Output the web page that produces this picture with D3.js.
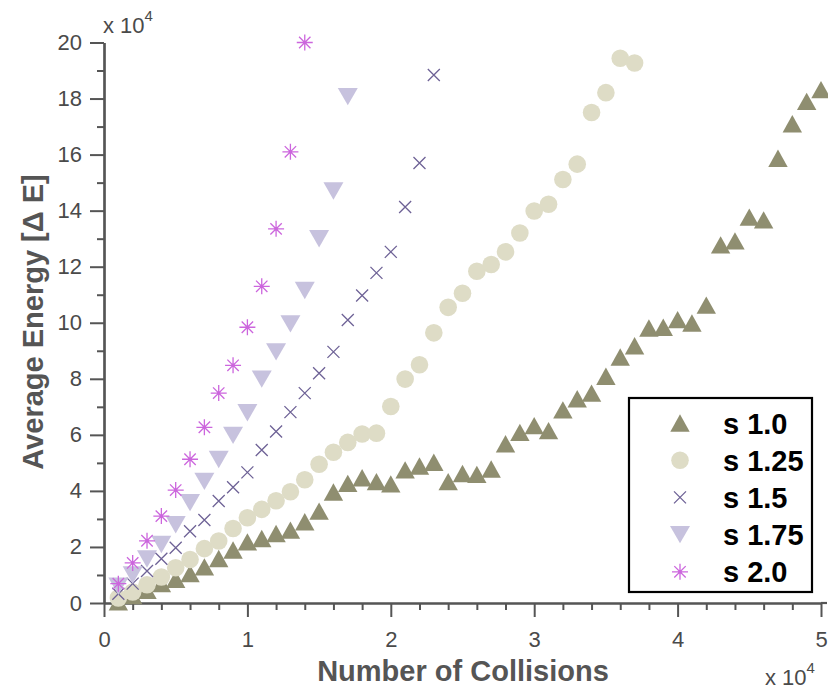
<!DOCTYPE html>
<html>
<head>
<meta charset="utf-8">
<script src="https://cdn.jsdelivr.net/npm/d3@7"></script>
<style>
  body { margin: 0; background: #fff; }
  text { font-family: "Liberation Sans", Arial, Helvetica, sans-serif; }
</style>
</head>
<body>
<script>
// number of collisions (x) and average energy for each s value
var collisions = [1000, 2000, 3000, 4000, 5000, 6000, 7000, 8000, 9000, 10000,
                  11000, 12000, 13000, 14000, 15000, 16000, 17000, 18000, 19000, 20000,
                  21000, 22000, 23000, 24000, 25000, 26000, 27000, 28000, 29000, 30000,
                  31000, 32000, 33000, 34000, 35000, 36000, 37000, 38000, 39000, 40000,
                  41000, 42000, 43000, 44000, 45000, 46000, 47000, 48000, 49000, 50000];

var s10  = [400, 2700, 4500, 6900, 8500, 10500, 12900, 15900, 18900, 21800,
            23000, 24800, 26000, 29000, 32800, 39600, 42700, 44700, 43300, 42500,
            47500, 48900, 50200, 43300, 46200, 45900, 47800, 56800, 60900, 63300,
            61500, 68900, 72900, 74900, 80900, 87800, 91800, 98100, 98400, 101100,
            99900, 106300, 127800, 129200, 137700, 136700, 158700, 171000, 179000, 183200];
var s125 = [1800, 3900, 6500, 9300, 12600, 15500, 19400, 22100, 26600, 30400,
            33400, 36500, 39700, 44000, 49500, 53800, 57300, 60300, 60600, 70100,
            79900, 85000, 96400, 105500, 110500, 118400, 120800, 125300, 132000, 139900,
            142300, 151100, 156600, 175000, 182100, 194400, 192700];
var s15  = [3300, 6900, 11400, 15800, 19700, 25600, 29600, 36400, 41300, 46600,
            54600, 61200, 68100, 74900, 82000, 89600, 101000, 109700, 117800, 125300,
            141300, 157000, 188400];
var s175 = [6000, 10000, 15700, 20900, 27900, 35800, 43400, 51200, 59800, 67900,
            79900, 89600, 99600, 111500, 130000, 147000, 180700];
var s20  = [6900, 14300, 22200, 31000, 40300, 51300, 62700, 74900, 84800, 98400,
            113000, 133500, 161000, 200000];

var seriesNames = ["s 1.0", "s 1.25", "s 1.5", "s 1.75", "s 2.0"];
var seriesData = [s10, s125, s15, s175, s20];

var xTicks = [0, 10000, 20000, 30000, 40000, 50000];
var yTicks = [0, 20000, 40000, 60000, 80000, 100000, 120000, 140000, 160000, 180000, 200000];

function main() {

  var svg = d3.select("body")
              .append("svg")
              .attr("width", 828)
              .attr("height", 691)

  var x = d3.scaleLinear().domain([0, 50000]).range([104, 821])
  var y = d3.scaleLinear().domain([0, 200000]).range([603, 42.5])

  var axisColor = "#555"
  var textColor = "#4a4a4a"

  // minor ticks
  var xMinor = d3.range(0, 50001, 2000).filter(function(v) { return v % 10000 != 0 })
  var yMinor = d3.range(10000, 200000, 20000)

  svg.append("g")
     .attr("transform", "translate(0,603)")
     .call(d3.axisBottom(x).tickValues(xMinor).tickSize(7).tickSizeOuter(0).tickFormat(""))
  svg.append("g")
     .attr("transform", "translate(104,0)")
     .call(d3.axisLeft(y).tickValues(yMinor).tickSize(7).tickSizeOuter(0).tickFormat(""))

  var xAxis = svg.append("g")
     .attr("transform", "translate(0,603)")
     .call(d3.axisBottom(x).tickValues(xTicks).tickSize(14).tickSizeOuter(0).tickPadding(14)
             .tickFormat(function(d) { return d / 10000 }))
  var yAxis = svg.append("g")
     .attr("transform", "translate(104,0)")
     .call(d3.axisLeft(y).tickValues(yTicks).tickSize(14).tickSizeOuter(0).tickPadding(8)
             .tickFormat(function(d) { return d / 10000 }))

  svg.selectAll(".domain").attr("stroke", axisColor).attr("stroke-width", 2.2)
  svg.selectAll(".tick line").attr("stroke", axisColor).attr("stroke-width", 2)
  svg.selectAll(".tick text")
     .attr("fill", textColor)
     .style("font-size", "22px")
     .style("font-family", "'Liberation Sans', Arial, sans-serif")

  // extend x axis line a little to the right like the original
  svg.append("line")
     .attr("x1", 821).attr("x2", 827)
     .attr("y1", 603).attr("y2", 603)
     .attr("stroke", axisColor).attr("stroke-width", 2.2)

  // exponent labels
  var expTop = svg.append("text").attr("x", 103).attr("y", 33)
                  .attr("fill", textColor).style("font-size", "22px")
  expTop.append("tspan").text("x 10")
  expTop.append("tspan").attr("dy", -12).style("font-size", "15px").text("4")

  var expBottom = svg.append("text").attr("x", 765).attr("y", 685)
                     .attr("fill", textColor).style("font-size", "22px")
  expBottom.append("tspan").text("x 10")
  expBottom.append("tspan").attr("dy", -12).style("font-size", "15px").text("4")

  // axis titles
  svg.append("text")
     .attr("x", 463).attr("y", 681)
     .attr("text-anchor", "middle")
     .attr("fill", "#555")
     .style("font-size", "29px").style("font-weight", "bold")
     .text("Number of Collisions")

  svg.append("text")
     .attr("transform", "translate(43,322) rotate(-90)")
     .attr("text-anchor", "middle")
     .attr("fill", "#555")
     .style("font-size", "29px").style("font-weight", "bold")
     .text("Average Energy [\u0394 E]")

  // marker drawers
  var colors = ["#8f8e70", "#dedcc6", "#6e6296", "#c7c2de", "#cc66dd"]

  function drawMarker(g, k) {
    if (k == 0) {
      g.append("path").attr("d", "M0,-8.7L9.7,8.7L-9.7,8.7Z").attr("fill", colors[0])
    } else if (k == 1) {
      g.append("circle").attr("r", 8.8).attr("fill", colors[1])
    } else if (k == 2) {
      g.append("path").attr("d", "M-6,-6L6,6M-6,6L6,-6")
       .attr("stroke", colors[2]).attr("stroke-width", 1.3).attr("fill", "none")
    } else if (k == 3) {
      g.append("path").attr("d", "M0,8.7L10,-8.7L-10,-8.7Z").attr("fill", colors[3])
    } else {
      g.append("path").attr("d", "M0,-8L0,8M-8,0L8,0M-5.7,-5.7L5.7,5.7M-5.7,5.7L5.7,-5.7")
       .attr("stroke", colors[4]).attr("stroke-width", 1.3).attr("fill", "none")
      g.append("circle").attr("r", 1.6).attr("fill", colors[4])
    }
  }

  seriesData.forEach(function(vals, k) {
    var pts = vals.map(function(v, i) { return [collisions[i], v] })
    svg.append("g")
       .selectAll("g")
       .data(pts)
       .enter()
       .append("g")
       .attr("transform", function(d) { return "translate(" + x(d[0]) + "," + y(d[1]) + ")" })
       .each(function() { drawMarker(d3.select(this), k) })
  })

  // legend
  var legend = svg.append("g")
  legend.append("rect")
        .attr("x", 629).attr("y", 398)
        .attr("width", 183).attr("height", 194)
        .attr("fill", "#fff")
        .attr("stroke", "#000")
        .attr("stroke-width", 2.2)

  seriesNames.forEach(function(name, k) {
    var cy = 423 + k * 37.2
    var m = legend.append("g").attr("transform", "translate(680," + cy + ")")
    drawMarker(m, k)
    legend.append("text")
          .attr("x", 723).attr("y", cy + 10.5)
          .attr("fill", "#000")
          .style("font-size", "29px").style("font-weight", "bold")
          .text(name)
  })
}

main();
</script>
</body>
</html>
